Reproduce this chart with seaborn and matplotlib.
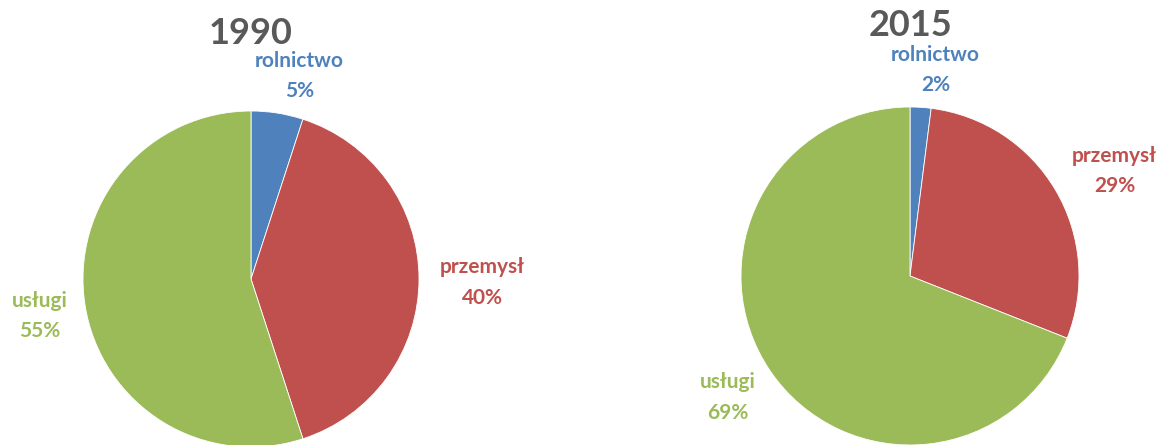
import matplotlib.pyplot as plt
import seaborn as sns
import numpy as np

sns.set_style('white')
plt.rcParams['font.family'] = ['Lato', 'DejaVu Sans']

# DATA
sectors = ['rolnictwo', 'przemysł', 'usługi']
years = ['1990', '2015']
shares_1990 = [5, 40, 55]
shares_2015 = [2, 29, 69]
colors = ['#4F81BD', '#C0504D', '#9BBB59']

# label anchor points (in pie-radius units, relative to pie centre)
label_pos_1990 = [(0.29, 1.21), (1.375, -0.02), (-1.256, -0.22)]
label_pos_2015 = [(0.15, 1.22), (1.21, 0.62), (-1.08, -0.72)]

fig = plt.figure(figsize=(11.62, 4.45), dpi=100)

# axes placed so that 1 data unit = pie radius in pixels
panels = [
    (years[0], shares_1990, label_pos_1990, [0, 0, 0.5, 1],
     (-251 / 168, 330 / 168), (-166 / 168, 279 / 168), 1.464),
    (years[1], shares_2015, label_pos_2015, [0.5, 0, 0.5, 1],
     (-329 / 169, 252 / 169), (-169 / 169, 276 / 169), 1.485),
]

for year, shares, lpos, rect, xl, yl, ty in panels:
    ax = fig.add_axes(rect)
    ax.pie(shares, colors=colors, startangle=90, counterclock=False,
           radius=1, center=(0, 0), wedgeprops=dict(linewidth=0.6, edgecolor='white'))
    ax.set_xlim(*xl)
    ax.set_ylim(*yl)
    ax.set_aspect('auto')
    ax.axis('off')
    ax.text(0, ty, year, ha='center', va='center', fontsize=26,
            fontweight='bold', color='#595959')
    for name, val, (x, y), c in zip(sectors, shares, lpos, colors):
        ax.text(x, y, f'{name}\n{val}%', ha='center', va='center',
                fontsize=15, fontweight='bold', color=c, linespacing=1.65)

plt.savefig('out.png', dpi=100)
